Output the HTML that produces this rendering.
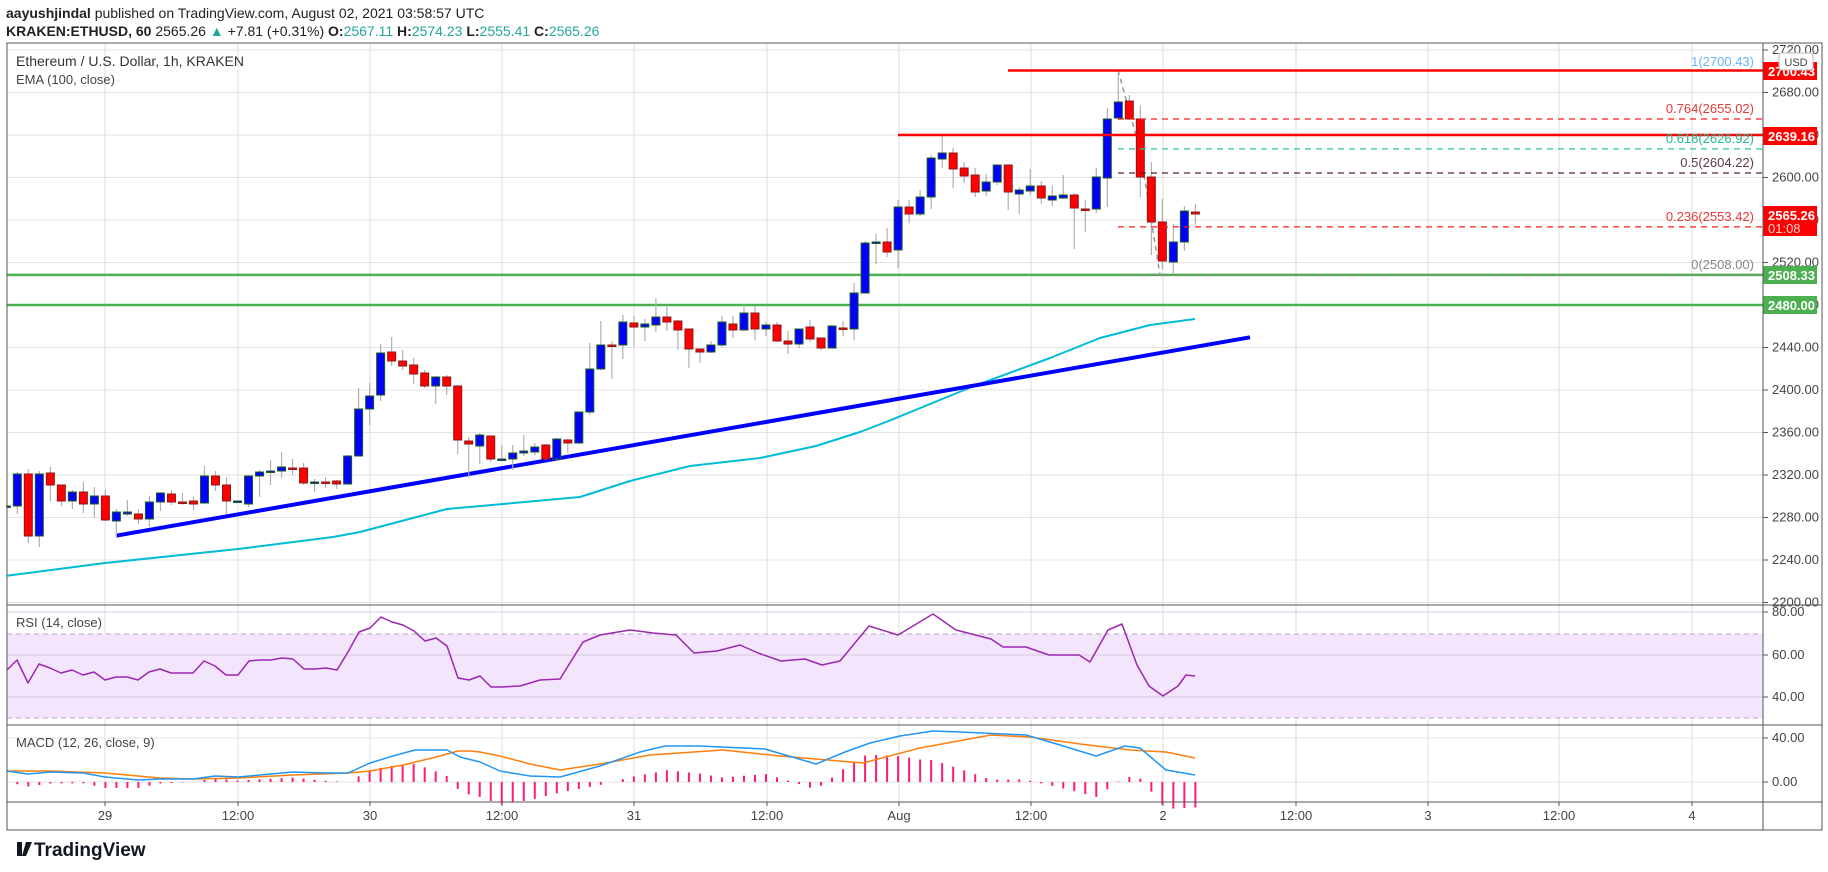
<!DOCTYPE html>
<html><head><meta charset="utf-8"><style>
body{margin:0;background:#fff;width:1828px;height:867px;overflow:hidden;font-family:"Liberation Sans",sans-serif}
</style></head><body>
<svg id="s" width="1828" height="867" xmlns="http://www.w3.org/2000/svg" font-family="Liberation Sans, sans-serif"></svg>
<script>
const s=document.getElementById('s');let h='';
const R=1763,L=7;
function py(p){return 50+(2720-p)*1.0625}
// grid
for(let p=2200;p<=2720;p+=40){const y=py(p);h+=`<line x1="${L}" x2="${R}" y1="${y}" y2="${y}" stroke="#e3e3e3"/>`;h+=`<line x1="${R}" x2="${R+5}" y1="${y}" y2="${y}" stroke="#555"/><text x="${R+9}" y="${y+4}" font-size="13" fill="#444">${p}.00</text>`}
const tx=[105,238,370,502,634,767,899,1031,1163,1296,1428,1559,1692],tl=['29','12:00','30','12:00','31','12:00','Aug','12:00','2','12:00','3','12:00','4'];
tx.forEach((x,i)=>{h+=`<line x1="${x}" x2="${x}" y1="43" y2="802" stroke="#dcdcdc"/><line x1="${x}" x2="${x}" y1="802" y2="806" stroke="#555"/><text x="${x}" y="820" font-size="13" fill="#444" text-anchor="middle">${tl[i]}</text>`});
// RSI pane
h+=`<rect x="${L}" y="634" width="${R-L}" height="84" fill="#f3e5fc"/>`;
[612,655,697].forEach(y=>h+=`<line x1="${L}" x2="${R}" y1="${y}" y2="${y}" stroke="#d8c8e0"/>`);
[634,718].forEach(y=>h+=`<line x1="${L}" x2="${R}" y1="${y}" y2="${y}" stroke="#b9a7c2" stroke-dasharray="5,4"/>`);
[[612,'80.00'],[655,'60.00'],[697,'40.00'],[738,'40.00'],[782,'0.00']].forEach(a=>h+=`<line x1="${R}" x2="${R+5}" y1="${a[0]}" y2="${a[0]}" stroke="#555"/><text x="${R+9}" y="${a[0]+4}" font-size="13" fill="#444">${a[1]}</text>`);
[738,782].forEach(y=>h+=`<line x1="${L}" x2="${R}" y1="${y}" y2="${y}" stroke="#e3e3e3"/>`);
// interpolate helper
function interp(pts,x){for(let i=0;i<pts.length-1;i++){if(x>=pts[i][0]&&x<=pts[i+1][0]){const t=(x-pts[i][0])/(pts[i+1][0]-pts[i][0]);return pts[i][1]+t*(pts[i+1][1]-pts[i][1])}}return pts[pts.length-1][1]}
function pl(pts,c,w){return `<polyline fill="none" stroke="${c}" stroke-width="${w}" stroke-linejoin="round" points="${pts.map(p=>p.join(',')).join(' ')}"/>`}
// MACD
const mb=[[7,771],[28,774],[50,772],[83,773],[105,777],[138,780],[160,779],[193,779],[215,776],[238,777],[260,775],[293,772],[326,773],[348,773],[370,763],[393,756],[415,750],[436,750],[447,750],[460,757],[480,762],[500,771],[530,776],[560,777],[600,766],[640,752],[665,746],[700,746],[765,749],[816,764],[845,752],[870,743],[900,736],[933,731],[960,732],[1026,735],[1060,745],[1096,756],[1125,746],[1140,748],[1166,770],[1195,775]];
const mo=[[7,771],[50,771],[105,773],[160,778],[193,779],[238,778],[293,775],[348,773],[370,771],[403,765],[436,757],[458,751],[470,751],[480,752],[500,756],[530,764],[560,770],[600,764],[650,755],[723,750],[780,756],[863,763],[920,748],[991,735],[1030,737],[1080,744],[1130,750],[1166,752],[1195,758]];
for(let k=0;k<=108;k++){const x=6.3+k*11.01;if(x<8)continue;const d=(interp(mo,x)-interp(mb,x))*1.5;const y2=782-d;h+=`<line x1="${x}" x2="${x}" y1="782" y2="${y2.toFixed(1)}" stroke="#ff1a75" stroke-width="2"/>`}
h+=pl(mo,'#ff7f0e',1.5)+pl(mb,'#2196f3',1.5);
// RSI
const rsi=[[7,670],[17,660],[28,683],[39,664],[50,668],[61,673],[72,670],[83,675],[94,672],[105,680],[116,677],[127,677],[138,680],[149,672],[160,669],[171,673],[182,673],[193,673],[204,661],[215,666],[226,675],[238,675],[249,661],[260,660],[271,660],[282,658],[293,659],[304,669],[315,669],[326,668],[337,670],[348,652],[359,632],[370,628],[381,617],[392,622],[403,625],[414,631],[425,641],[436,638],[447,646],[458,678],[469,680],[480,676],[491,687],[501,687],[520,686],[540,680],[560,679],[583,642],[600,635],[630,630],[653,633],[676,635],[694,653],[717,651],[740,645],[758,653],[781,661],[805,659],[822,665],[840,661],[869,626],[898,635],[933,614],[956,630],[991,639],[1003,647],[1026,647],[1049,655],[1079,655],[1090,662],[1108,630],[1122,624],[1137,665],[1149,686],[1163,696],[1178,686],[1186,675],[1195,676]];
h+=pl(rsi,'#9c27b0',1.5);
// EMA
const ema=[[7,575.7],[105,563],[238,549],[333,537],[360,532],[447,509],[503,504],[580,497],[630,481],[690,466],[760,458],[816,446],[860,432],[886,422],[974,386],[1050,358],[1100,338],[1150,325],[1195,319]];
// green lines
[274.9,305].forEach(y=>h+=`<line x1="${L}" x2="${R}" y1="${y}" y2="${y}" stroke="#4caf50" stroke-width="2.5"/>`);
h+=pl(ema,'#00bcd4',2);
// trendline
h+=`<line x1="116" y1="535.7" x2="1250" y2="337.3" stroke="#0000ff" stroke-width="4"/>`;
// candles
const C=[[507,506,505,508],[506,474,472,514],[474,536,469,543],[536,474,471,547],[473,485,467,501],[485,501,485,506],[501,492,490,509],[492,504,482,513],[504,496,487,518],[496,520,490,521],[521,512,509,537],[514,512,500,516],[514,519,509,524],[519,502,496,527],[502,493,492,511],[494,502,490,505],[502,503,493,505],[501,504,497,510],[503,476,466,504],[476,485,471,491],[485,501,477,514],[502,501,501,503],[504,476,475,507],[476,472,470,497],[472,471,460,485],[471,467,452,478],[468,469,459,475],[468,483,463,485],[483,482,479,492],[482,482,477,488],[481,484,480,489],[484,456,455,485],[456,409,388,456],[409,396,383,425],[395,353,344,401],[352,361,337,366],[361,366,350,370],[365,374,358,384],[373,386,370,388],[386,377,376,404],[377,386,375,395],[386,440,385,454],[441,444,437,478],[446,435,433,464],[436,459,436,462],[460,459,445,461],[459,453,445,470],[453,451,435,456],[452,447,443,455],[445,459,444,460],[459,439,438,460],[440,443,439,453],[443,412,412,444],[412,369,343,415],[369,345,321,370],[345,345,341,379],[345,322,315,359],[323,327,316,346],[327,324,319,341],[325,317,298,332],[317,322,307,331],[321,330,320,350],[329,349,329,368],[349,352,349,363],[352,345,341,353],[345,322,316,347],[324,330,316,338],[330,313,307,331],[313,329,306,340],[329,325,322,336],[325,341,322,342],[341,344,331,354],[344,329,329,348],[327,339,320,342],[338,348,338,350],[348,326,325,348],[328,329,321,336],[329,293,283,340],[293,243,241,293],[243,242,234,264],[242,252,228,257],[250,207,200,268],[207,214,200,223],[214,197,190,216],[197,158,155,209],[159,153,136,168],[153,169,148,188],[168,176,162,183],[175,192,168,197],[191,182,174,196],[182,165,165,185],[165,192,165,210],[194,190,187,214],[191,186,169,195],[186,198,181,204],[200,196,186,206],[198,195,175,199],[195,208,193,249],[209,209,200,232],[209,177,168,213],[178,119,108,207],[118,102,71,120],[101,119,95,120],[119,177,106,197],[177,222,162,255],[222,261,199,269],[262,242,224,273],[242,211,206,251],[212,214,204,225]];
// fib diag
h+=`<polyline fill="none" stroke="#999" stroke-width="1.5" stroke-dasharray="5,4" points="1118,70 1140,150 1160,275"/>`;
C.forEach((c,k)=>{const x=6.3+k*11.01;const [o,cl,hi,lo]=c;const up=cl<o;const col=up?'#0000ff':'#ff0000';const bd=up?'#1b5e20':'#8b1a1a';
h+=`<line x1="${x}" x2="${x}" y1="${hi}" y2="${lo}" stroke="#b0b0b0" stroke-width="1.2"/>`;
const t=Math.min(o,cl),b=Math.max(Math.abs(o-cl),1.5);h+=`<rect x="${Math.max(x-4,7)}" y="${t}" width="${x-4<7?x+4-7:8}" height="${b}" fill="${col}" stroke="${bd}" stroke-width="1"/>`});
// red resistance lines
h+=`<line x1="1008" x2="${R}" y1="70.5" y2="70.5" stroke="#ff0000" stroke-width="2.5"/><line x1="898" x2="${R}" y1="135" y2="135" stroke="#ff0000" stroke-width="2.5"/>`;
// fib
[[119,'#ff1a1a','0.764(2655.02)','#e53935'],[148.9,'#26c6a0','0.618(2626.92)','#26b890'],[173,'#5a1e3c','0.5(2604.22)','#5a3a4a'],[226.9,'#ff1a1a','0.236(2553.42)','#e53935'],[275.2,'#888','0(2508.00)','#888']].forEach(f=>{h+=`<line x1="1118" x2="${R}" y1="${f[0]}" y2="${f[0]}" stroke="${f[1]}" stroke-width="1.2" stroke-dasharray="6,5"/><text x="1754" y="${f[0]-6}" font-size="13" fill="${f[3]}" text-anchor="end">${f[2]}</text>`});
h+=`<text x="1754" y="66" font-size="13" fill="#64b5f6" text-anchor="end">1(2700.43)</text>`;
// axis badges
function badge(y,t,c){h+=`<rect x="${R}" y="${y-9}" width="54" height="18" fill="${c}"/><text x="${R+5}" y="${y+5}" font-size="13" font-weight="bold" fill="#fff">${t}</text>`}
h+=`<rect x="${R}" y="206" width="54" height="30" fill="#ff0000"/><text x="${R+5}" y="220" font-size="13" font-weight="bold" fill="#fff">2565.26</text><text x="${R+5}" y="233" font-size="13" fill="#ffd0d0">01:08</text>`;
badge(71,'2700.43','#ff0000');badge(136,'2639.16','#ff0000');badge(275,'2508.33','#4caf50');badge(305,'2480.00','#4caf50');
h+=`<rect x="1779" y="53" width="34" height="17" rx="3" fill="#fff" stroke="#bbb"/><text x="1796" y="66" font-size="11" fill="#444" text-anchor="middle">USD</text>`;
// frame
h+=`<rect x="7" y="43" width="1815" height="787" fill="none" stroke="#555"/><line x1="${R}" x2="${R}" y1="43" y2="830" stroke="#555"/>`;
[605,725,802].forEach(y=>h+=`<line x1="7" x2="1822" y1="${y}" y2="${y}" stroke="#555"/>`);
// texts
h+=`<text x="16" y="66" font-size="14" fill="#333">Ethereum / U.S. Dollar, 1h, KRAKEN</text><text x="16" y="84" font-size="13" fill="#444">EMA (100, close)</text>`;
h+=`<text x="16" y="627" font-size="13" fill="#444">RSI (14, close)</text><text x="16" y="747" font-size="13" fill="#444">MACD (12, 26, close, 9)</text>`;
h+=`<text x="6" y="18" font-size="14" fill="#222"><tspan font-weight="bold">aayushjindal</tspan> published on TradingView.com, August 02, 2021 03:58:57 UTC</text>`;
h+=`<text x="6" y="36" font-size="14" fill="#222"><tspan font-weight="bold">KRAKEN:ETHUSD, 60</tspan> 2565.26 <tspan fill="#26a69a">▲</tspan> +7.81 (+0.31%) <tspan font-weight="bold">O:</tspan><tspan fill="#26a69a">2567.11</tspan> <tspan font-weight="bold">H:</tspan><tspan fill="#26a69a">2574.23</tspan> <tspan font-weight="bold">L:</tspan><tspan fill="#26a69a">2555.41</tspan> <tspan font-weight="bold">C:</tspan><tspan fill="#26a69a">2565.26</tspan></text>`;
h+=`<path d="M7,842h10v14h5v-14h6zM26,842h6l-6,14h-4z" fill="#131722"/><text x="34" y="856" font-size="19" font-weight="bold" fill="#131722">TradingView</text>`;
s.innerHTML=h;
</script>
</body></html>
